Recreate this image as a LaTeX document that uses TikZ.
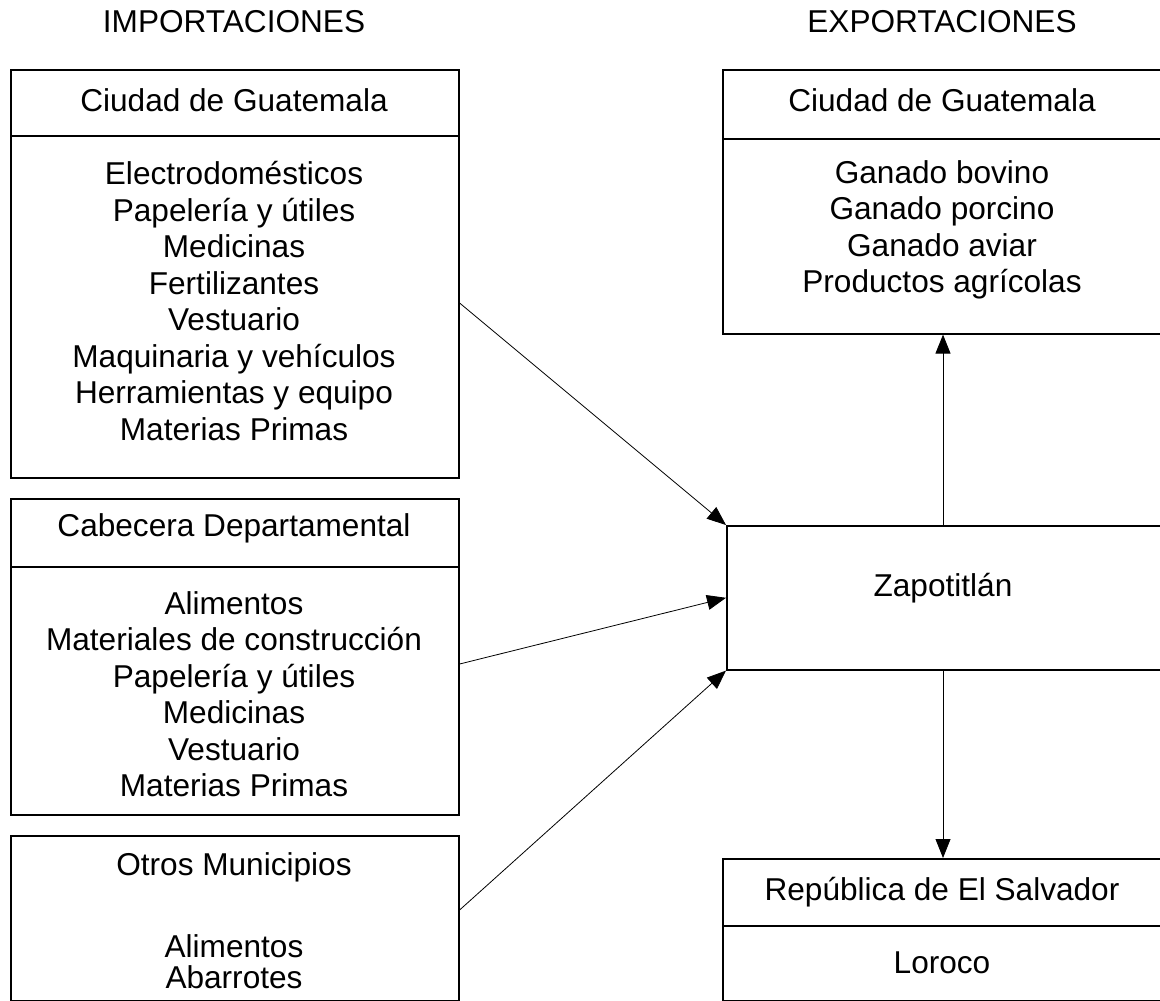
\documentclass[tikz,border=0pt]{standalone}
\usepackage{fontspec}
\setmainfont{Liberation Sans}
\usetikzlibrary{arrows.meta}
\usetikzlibrary{positioning}

\newcommand{\itemsize}{\fontsize{31.6pt}{36.5pt}\selectfont}
\newcommand{\tightsize}{\fontsize{31.6pt}{31pt}\selectfont}

\tikzstyle{panel} = [
    rectangle,
    draw=black,
    line width=1.6pt,
    anchor=north west,
    inner sep=0pt
]
\tikzstyle{lines} = [
    font=\itemsize,
    align=center,
    inner sep=0pt
]
\tikzstyle{divider} = [
    line width=1.6pt
]
\tikzstyle{flow} = [
    -{Triangle[length=19pt, width=15pt]},
    line width=0.8pt
]

\begin{document}
\begin{tikzpicture}[x=1pt, y=-1pt]
\useasboundingbox (0,0) rectangle (1160,1001);

% titles
\node [lines] (imp_title) at (234,22) {IMPORTACIONES};
\node [lines] (exp_title) at (942,22) {EXPORTACIONES};

% import boxes
\node [panel, minimum width=448pt, minimum height=408pt] (imp_gt) at (10,69) {};
\draw [divider] (imp_gt.west |- 0,136) -- (imp_gt.east |- 0,136);
\node [lines] (imp_gt_head) at (234,100) {Ciudad de Guatemala};
\node [lines] (imp_gt_body) at (234,301) {Electrodomésticos\\Papelería y útiles\\Medicinas\\Fertilizantes\\Vestuario\\Maquinaria y vehículos\\Herramientas y equipo\\Materias Primas};

\node [panel, minimum width=448pt, minimum height=316pt] (imp_cab) at (10,498) {};
\draw [divider] (imp_cab.west |- 0,567) -- (imp_cab.east |- 0,567);
\node [lines] (imp_cab_head) at (234,528) {Cabecera Departamental};
\node [lines] (imp_cab_body) at (234,694) {Alimentos\\Materiales de construcción\\Papelería y útiles\\Medicinas\\Vestuario\\Materias Primas};

\node [panel, minimum width=448pt, minimum height=165pt] (imp_otros) at (10,835) {};
\node [lines] (imp_otros_head) at (234,867) {Otros Municipios};
\node [lines, font=\tightsize] (imp_otros_body) at (234,962) {Alimentos\\Abarrotes};

% export side
\node [panel, minimum width=460pt, minimum height=264pt] (exp_gt) at (722,69) {};
\draw [divider] (exp_gt.west |- 0,139) -- (exp_gt.east |- 0,139);
\node [lines] (exp_gt_head) at (942,100) {Ciudad de Guatemala};
\node [lines] (exp_gt_body) at (942,230) {Ganado bovino\\Ganado porcino\\Ganado aviar\\Productos agrícolas};

\node [panel, minimum width=460pt, minimum height=144pt] (zapo) at (726,525) {};
\node [lines] (zapo_txt) at (943,588) {Zapotitlán};

\node [panel, minimum width=460pt, minimum height=142pt] (exp_sv) at (722,858) {};
\draw [divider] (exp_sv.west |- 0,926) -- (exp_sv.east |- 0,926);
\node [lines] (exp_sv_head) at (942,892) {República de El Salvador};
\node [lines] (exp_sv_body) at (942,963) {Loroco};

% connectors
\draw [flow] (imp_gt.east |- 0,303) -- (zapo.north west);
\draw [flow] (imp_cab.east |- 0,664) -- (zapo.west);
\draw [flow] (imp_otros.east |- 0,910) -- (zapo.south west);
\draw [flow] (zapo_txt |- zapo.north) -- (zapo_txt |- exp_gt.south);
\draw [flow] (zapo_txt |- zapo.south) -- (zapo_txt |- exp_sv.north);
\end{tikzpicture}
\end{document}
